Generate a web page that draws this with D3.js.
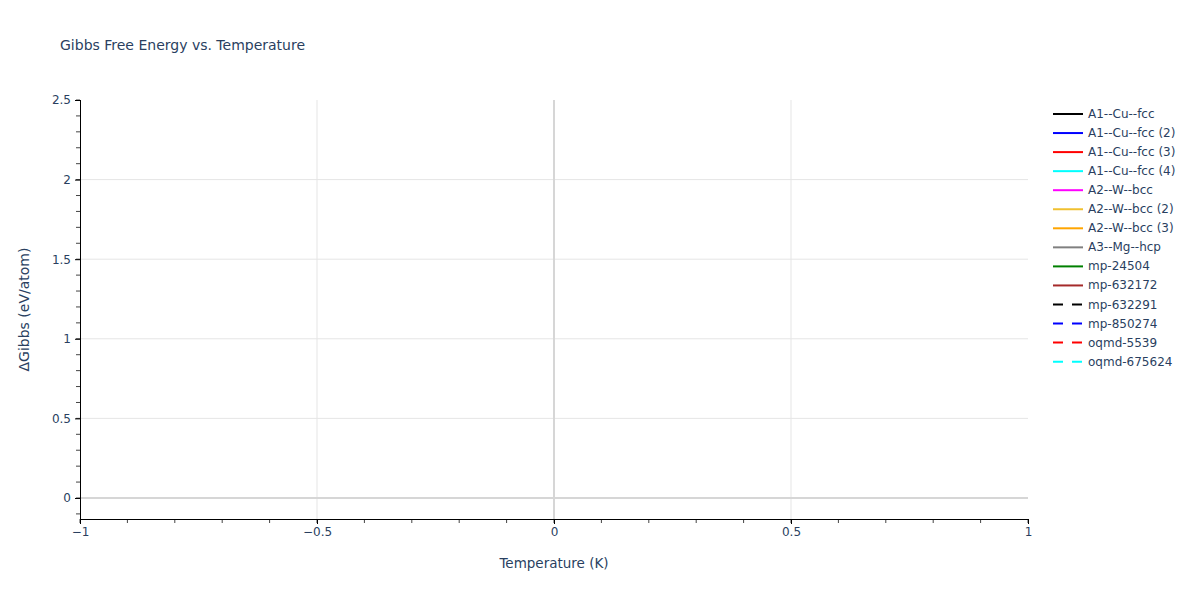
<!DOCTYPE html>
<html>
<head>
<meta charset="utf-8">
<script src="https://cdn.jsdelivr.net/npm/d3@7"></script>
<style>
  body { margin: 0; background: #fff; }
  text { font-family: "DejaVu Sans", verdana, arial, sans-serif; fill: #2a3f5f; }
</style>
</head>
<body>
<div id="chart"></div>
<script>
// series shown in the legend (no points are plotted in the reference)
const seriesNames = ['A1--Cu--fcc', 'A1--Cu--fcc (2)', 'A1--Cu--fcc (3)', 'A1--Cu--fcc (4)',
  'A2--W--bcc', 'A2--W--bcc (2)', 'A2--W--bcc (3)', 'A3--Mg--hcp',
  'mp-24504', 'mp-632172', 'mp-632291', 'mp-850274', 'oqmd-5539', 'oqmd-675624'];
const seriesColors = ['black', 'blue', 'red', 'cyan', 'magenta', '#f0c030', 'orange', 'grey',
  'green', 'brown', 'black', 'blue', 'red', 'cyan'];
const seriesDashed = [false, false, false, false, false, false, false, false,
  false, false, true, true, true, true];
const temperatures = [];   // empty traces
const gibbsValues = seriesNames.map(() => []);

const xTicks = [-1, -0.5, 0, 0.5, 1];
const yTicks = [0, 0.5, 1, 1.5, 2, 2.5];

const width = 1200, height = 600;
const margin = {left: 80, right: 172, top: 100, bottom: 81};

const svg = d3.select('#chart')
  .append('svg')
    .attr('width', width)
    .attr('height', height);

const x = d3.scaleLinear().domain([-1, 1]).range([margin.left, width - margin.right]);
const y = d3.scaleLinear().domain([-0.132, 2.5]).range([height - margin.bottom, margin.top]);

// grid lines
svg.append('g').selectAll('line')
  .data(xTicks.filter(d => d !== -1 && d !== 1 && d !== 0))
  .join('line')
    .attr('x1', d => x(d)).attr('x2', d => x(d))
    .attr('y1', margin.top).attr('y2', height - margin.bottom)
    .attr('stroke', '#e5e5e5').attr('stroke-width', 1);

svg.append('g').selectAll('line')
  .data(yTicks.filter(d => d !== 0 && d !== 2.5))
  .join('line')
    .attr('x1', margin.left).attr('x2', width - margin.right)
    .attr('y1', d => y(d)).attr('y2', d => y(d))
    .attr('stroke', '#e5e5e5').attr('stroke-width', 1);

// zero lines
svg.append('line')
  .attr('x1', x(0)).attr('x2', x(0))
  .attr('y1', margin.top).attr('y2', height - margin.bottom)
  .attr('stroke', '#d6d6d6').attr('stroke-width', 2);
svg.append('line')
  .attr('x1', margin.left).attr('x2', width - margin.right)
  .attr('y1', y(0)).attr('y2', y(0))
  .attr('stroke', '#d6d6d6').attr('stroke-width', 2);

// traces (empty)
const line = d3.line().x(d => x(d[0])).y(d => y(d[1]));
svg.append('g').selectAll('path')
  .data(gibbsValues)
  .join('path')
    .attr('d', (v) => line(v.map((g, i) => [temperatures[i], g])))
    .attr('fill', 'none')
    .attr('stroke', (d, i) => seriesColors[i])
    .attr('stroke-dasharray', (d, i) => seriesDashed[i] ? '9,9' : null)
    .attr('stroke-width', 2);

// minor ticks
const xMinor = d3.range(-10, 11).map(d => d / 10);
const yMinor = d3.range(-1, 26).map(d => d / 10);

svg.append('g').selectAll('line')
  .data(xMinor)
  .join('line')
    .attr('x1', d => x(d)).attr('x2', d => x(d))
    .attr('y1', height - margin.bottom).attr('y2', height - margin.bottom + 4)
    .attr('stroke', '#444').attr('stroke-width', 1);
svg.append('g').selectAll('line')
  .data(yMinor)
  .join('line')
    .attr('x1', margin.left - 4).attr('x2', margin.left)
    .attr('y1', d => y(d)).attr('y2', d => y(d))
    .attr('stroke', '#444').attr('stroke-width', 1);

// axes
const xAxis = d3.axisBottom(x).tickValues(xTicks).tickSize(5).tickPadding(3)
  .tickFormat(d => d3.format('')(d).replace('-', '\u2212'));
const gx = svg.append('g')
  .attr('transform', `translate(0,${height - margin.bottom})`)
  .call(xAxis);
gx.select('.domain').attr('stroke', '#000').attr('stroke-width', 1);
gx.selectAll('.tick line').attr('stroke', '#000');
gx.selectAll('text').attr('font-size', 12)
  .style('font-family', '"DejaVu Sans", verdana, sans-serif').style('fill', '#2a3f5f');

const yAxis = d3.axisLeft(y).tickValues(yTicks).tickSize(5).tickPadding(4)
  .tickFormat(d3.format(''));
const gy = svg.append('g')
  .attr('transform', `translate(${margin.left},0)`)
  .call(yAxis);
gy.select('.domain').attr('stroke', '#000').attr('stroke-width', 1)
  .attr('d', `M0.5,${y(-0.132)}V${margin.top}`);
gy.selectAll('.tick line').attr('stroke', '#000');
gy.selectAll('text').attr('font-size', 12)
  .style('font-family', '"DejaVu Sans", verdana, sans-serif').style('fill', '#2a3f5f');

// title and axis titles
svg.append('text')
  .attr('x', 60).attr('y', 50)
  .attr('font-size', 14)
  .text('Gibbs Free Energy vs. Temperature');

svg.append('text')
  .attr('x', x(0)).attr('y', 568)
  .attr('text-anchor', 'middle')
  .attr('font-size', 13.5)
  .text('Temperature (K)');

svg.append('text')
  .attr('transform', `translate(29,${(margin.top + height - margin.bottom) / 2}) rotate(-90)`)
  .attr('text-anchor', 'middle')
  .attr('font-size', 14)
  .text('\u0394Gibbs (eV/atom)');

// legend
const legend = svg.append('g').selectAll('g')
  .data(seriesNames)
  .join('g')
    .attr('transform', (d, i) => `translate(1053,${114 + i * 19.05})`);
legend.append('line')
  .attr('x1', 0).attr('x2', 30)
  .attr('stroke', (d, i) => seriesColors[i])
  .attr('stroke-dasharray', (d, i) => seriesDashed[i] ? '10,9' : null)
  .attr('stroke-width', 2);
legend.append('text')
  .attr('x', 35).attr('y', 4)
  .attr('font-size', 12)
  .text(d => d);
</script>
</body>
</html>
